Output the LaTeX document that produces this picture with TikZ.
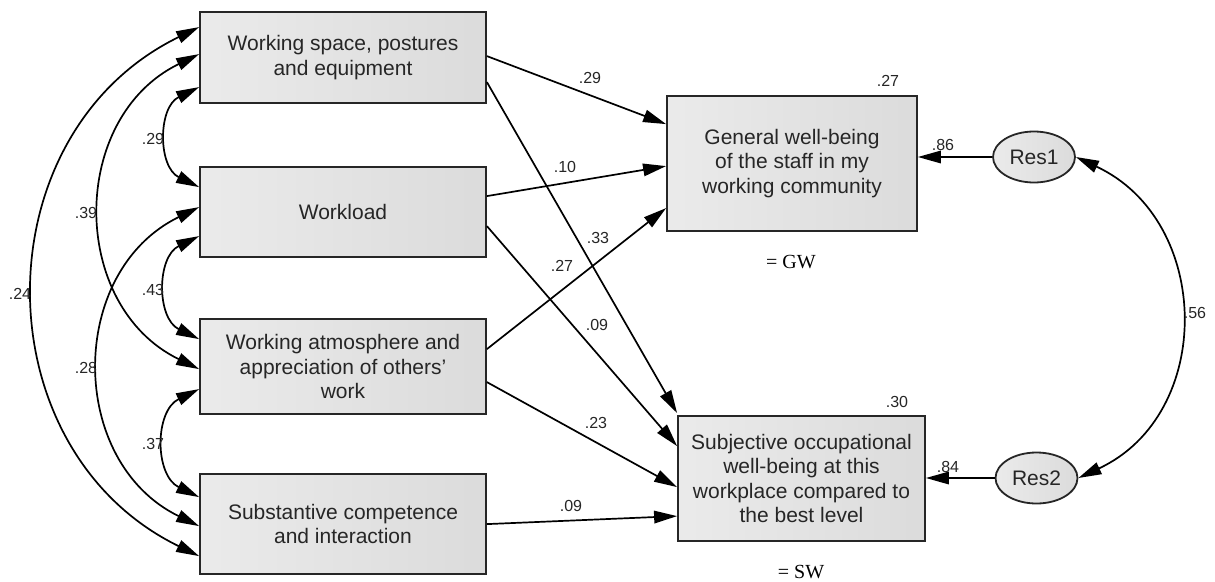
\documentclass[tikz,border=0pt]{standalone}
\usepackage{fontspec}
\setmainfont{Liberation Sans}
\newfontfamily\serifface{Liberation Serif}
\usetikzlibrary{arrows.meta,shapes.geometric}
\tikzset{
  mytip/.tip={Triangle[length=23pt,width=12.5pt]},
  obsbox/.style={draw=black!85, line width=1.8pt, left color=black!8, right color=black!14,
    shading angle=90, inner sep=0pt, align=center, text=black!85,
    font=\fontsize{21}{24.5}\selectfont},
  resell/.style={ellipse, draw=black!85, line width=1.8pt, left color=black!8, right color=black!14,
    inner sep=0pt, minimum width=82pt, minimum height=51pt, text=black!85,
    font=\fontsize{21}{24.5}\selectfont},
  path/.style={line width=1.7pt, black, -mytip},
  cov/.style={line width=1.7pt, black, mytip-mytip, out=206, in=154, looseness=1.18},
  coef/.style={font=\fontsize{16}{18}\selectfont, text=black!85, inner sep=0pt},
  eqlab/.style={font=\serifface\fontsize{20}{22}\selectfont, text=black, inner sep=0pt}
}
\begin{document}
\begin{tikzpicture}[x=1pt,y=1pt]
\useasboundingbox (0,0) rectangle (1215,-581);
% exogenous boxes
\node[obsbox, minimum width=286pt, minimum height=91pt] (A) at (343,-57.5) {Working space, postures\\and equipment};
\node[obsbox, minimum width=286pt, minimum height=90pt] (B) at (343,-212) {Workload};
\node[obsbox, minimum width=286pt, minimum height=95pt] (C) at (343,-366.5) {Working atmosphere and\\appreciation of others'\\work};
\node[obsbox, minimum width=286pt, minimum height=100pt] (D) at (343,-524) {Substantive competence\\and interaction};
% endogenous boxes
\node[obsbox, minimum width=250pt, minimum height=135pt] (GW) at (792,-163.5) {General well-being\\of the staff in my\\working community};
\node[obsbox, minimum width=247pt, minimum height=125pt] (SW) at (801.5,-478.5) {Subjective occupational\\well-being at this\\workplace compared to\\the best level};
% residuals
\node[resell] (r1) at (1034,-157) {Res1};
\node[resell] (r2) at (1036.5,-478) {Res2};

% regression paths
\draw[path] ([yshift=-45pt]A.north east) -- ([yshift=-29pt]GW.north west);
\draw[path] ([yshift=-30pt]B.north east) -- ([yshift=-71pt]GW.north west);
\draw[path] ([yshift=-31pt]C.north east) -- ([yshift=-113pt]GW.north west);
\draw[path] ([yshift=-71pt]A.north east) -- ([yshift=2pt]SW.north west);
\draw[path] ([yshift=-60pt]B.north east) -- ([yshift=-31pt]SW.north west);
\draw[path] ([yshift=-64pt]C.north east) -- ([yshift=-72pt]SW.north west);
\draw[path] ([yshift=-51pt]D.north east) -- ([yshift=-101pt]SW.north west);
\draw[path] (r1.west) -- (r1.west -| GW.east);
\draw[path] (r2.west) -- (r2.west -| SW.east);

% covariances
\draw[cov] ([yshift=-76pt]A.north west) to ([yshift=-21pt]B.north west);
\draw[cov] ([yshift=-43pt]A.north west) to ([yshift=-51pt]C.north west);
\draw[cov] ([yshift=-16pt]A.north west) to ([yshift=-83pt]D.north west);
\draw[cov] ([yshift=-70pt]B.north west) to ([yshift=-21pt]C.north west);
\draw[cov] ([yshift=-41pt]B.north west) to ([yshift=-53pt]D.north west);
\draw[cov] ([yshift=-71pt]C.north west) to ([yshift=-24pt]D.north west);
\draw[line width=1.7pt, black, mytip-mytip] (r1.east) to[out=-25, in=25, looseness=1.2] (r2.east);

% coefficients
\node[coef] (l1) at (590,-78) {.29};
\node[coef] (l2) at (565,-167) {.10};
\node[coef] (l3) at (562,-266) {.27};
\node[coef] (l4) at (598,-238) {.33};
\node[coef] (l5) at (597,-325) {.09};
\node[coef] (l6) at (596,-423) {.23};
\node[coef] (l7) at (571,-506) {.09};
\node[coef] (c1) at (153,-139) {.29};
\node[coef] (c2) at (86,-213) {.39};
\node[coef] (c3) at (20,-294) {.24};
\node[coef] (c4) at (153,-290) {.43};
\node[coef] (c5) at (86,-368) {.28};
\node[coef] (c6) at (153,-444) {.37};
\node[coef] (c7) at (1195,-313) {.56};
\node[coef] (e1) at (943,-145) {.86};
\node[coef] (e2) at (948,-467) {.84};
\node[coef] (q1) at (888,-81) {.27};
\node[coef] (q2) at (897,-402) {.30};
\node[eqlab] (gwl) at (791,-262) {= GW};
\node[eqlab] (swl) at (801,-572) {= SW};
\end{tikzpicture}
\end{document}
